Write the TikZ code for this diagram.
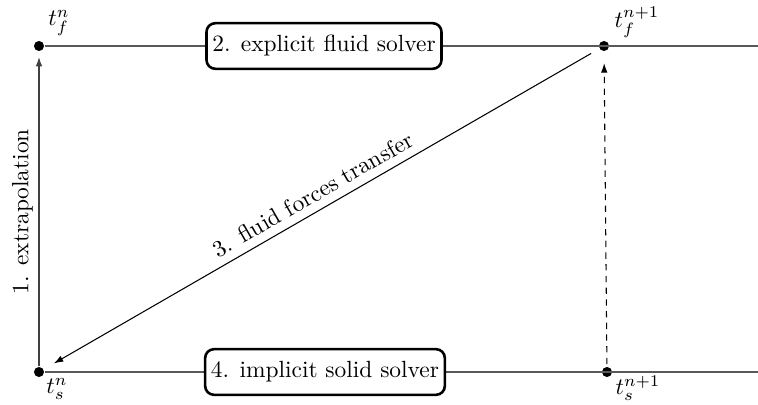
\documentclass[tikz,border=0pt]{standalone}
\usetikzlibrary{arrows.meta}
\begin{document}
\begin{tikzpicture}[x=0.427pt,y=-0.427pt,
  dot/.style={circle,fill=black,inner sep=0pt,minimum size=4.3pt},
  timeline/.style={draw=black!65,line width=0.6pt},
  solver/.style={draw=black,line width=1.1pt,rounded corners=3.8pt,fill=white,minimum height=19.5pt,inner xsep=2.5pt},
  arr/.style={-{Latex[length=4pt,width=2.8pt]},line width=0.45pt},
  tlabel/.style={inner sep=0pt}]
\useasboundingbox (0,0) rectangle (758,405);
\node[dot] (fn) at (39,46) {};
\node[dot] (fn1) at (604,46) {};
\node[dot] (sn) at (39,372) {};
\node[dot] (sn1) at (607,372) {};
\coordinate (fend) at (758,46);
\coordinate (send) at (758,372);
\draw[timeline] (fn) -- (fend);
\draw[timeline] (sn) -- (send);
\node[solver] (fs) at (324,46) {2. explicit fluid solver};
\node[solver] (ss) at (325,372) {4. implicit solid solver};
\node[tlabel] (lfn) at (59,23) {$t_f^n$};
\node[tlabel] (lfn1) at (637,22) {$t_f^{n+1}$};
\node[tlabel] (lsn) at (57,389) {$t_s^n$};
\node[tlabel] (lsn1) at (638,388) {$t_s^{n+1}$};
\draw[arr,black!75,line width=0.55pt] (sn) -- node[rotate=90,above=-1pt,black] (lext) {1. extrapolation} ([yshift=-2.3pt]fn.south);
\draw[arr,shorten <=4pt,shorten >=5pt] (fn1) -- node[midway,above,sloped] (ltr) {3. fluid forces transfer} (sn);
\draw[arr,dash pattern=on 2.7pt off 2.3pt,shorten <=1pt,shorten >=5pt] (sn1) -- (fn1);
\end{tikzpicture}
\end{document}
